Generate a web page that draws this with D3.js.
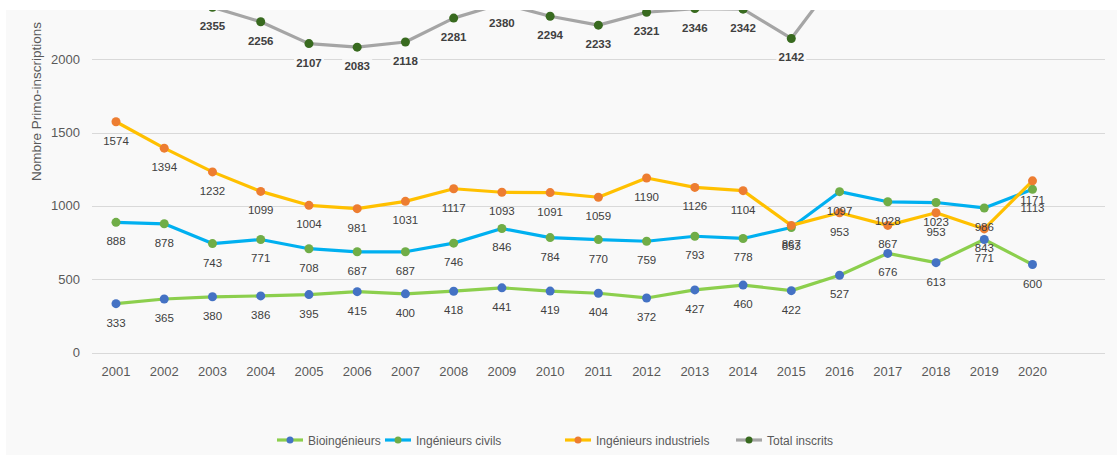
<!DOCTYPE html>
<html>
<head>
<meta charset="utf-8">
<script src="https://cdn.jsdelivr.net/npm/d3@7"></script>
<style>
  body { margin: 0; background: #fff; }
  svg { display: block; font-family: 'Liberation Sans', Arial, sans-serif; }
</style>
</head>
<body>
<script>
'use strict'

// data
var years = ['2001', '2002', '2003', '2004', '2005', '2006', '2007', '2008', '2009', '2010',
  '2011', '2012', '2013', '2014', '2015', '2016', '2017', '2018', '2019', '2020']
var bioValues = [333, 365, 380, 386, 395, 415, 400, 418, 441, 419, 404, 372, 427, 460, 422, 527, 676, 613, 771, 600]
var civilsValues = [888, 878, 743, 771, 708, 687, 687, 746, 846, 784, 770, 759, 793, 778, 853, 1097, 1028, 1023, 986, 1113]
var industrielsValues = [1574, 1394, 1232, 1099, 1004, 981, 1031, 1117, 1093, 1091, 1059, 1190, 1126, 1104, 867, 953, 867, 953, 843, 1171]
var totalValues = [2795, 2637, 2355, 2256, 2107, 2083, 2118, 2281, 2380, 2294, 2233, 2321, 2346, 2342, 2142, 2577, 2571, 2589, 2600, 2884]
var yTicks = [0, 500, 1000, 1500, 2000]
var seriesNames = ['Bioingénieurs', 'Ingénieurs civils', 'Ingénieurs industriels', 'Total inscrits']

var series = [
  {name: seriesNames[0], values: bioValues, line: '#8ccf4d', dot: '#4472c4'},
  {name: seriesNames[1], values: civilsValues, line: '#00b0f0', dot: '#70ad47'},
  {name: seriesNames[2], values: industrielsValues, line: '#ffc000', dot: '#ed7d31'},
  {name: seriesNames[3], values: totalValues, line: '#a5a5a5', dot: '#386a1f', bold: true}
]

var W = 1117, H = 455
var cropTop = 10
var bg = '#f9f9f9'

var svg = d3.select('body').append('svg')
  .attr('width', W)
  .attr('height', H)

svg.append('rect').attr('x', 6).attr('y', cropTop).attr('width', W - 6).attr('height', H - cropTop).attr('fill', bg)

var x = d3.scalePoint().domain(years).range([116, 1032.5])
var y = d3.scaleLinear().domain([0, 2000]).range([352.5, 59.3])

// the chart is cut off at the top, like the reference
svg.append('clipPath').attr('id', 'clip')
  .append('rect').attr('x', 6).attr('y', cropTop).attr('width', W).attr('height', H)

// grid
svg.append('g').selectAll('line')
  .data(yTicks)
  .enter().append('line')
  .attr('x1', 92).attr('x2', 1105)
  .attr('y1', d => Math.round(y(d)) + 0.5)
  .attr('y2', d => Math.round(y(d)) + 0.5)
  .attr('stroke', '#d9d9d9')
  .attr('stroke-width', 1)

// y axis labels
svg.append('g').selectAll('text')
  .data(yTicks)
  .enter().append('text')
  .attr('x', 80)
  .attr('y', d => y(d) + 4.5)
  .attr('text-anchor', 'end')
  .attr('font-size', '13px')
  .attr('fill', '#595959')
  .text(d => d)

// x axis labels
svg.append('g').selectAll('text')
  .data(years)
  .enter().append('text')
  .attr('x', d => x(d))
  .attr('y', 376)
  .attr('text-anchor', 'middle')
  .attr('font-size', '13px')
  .attr('fill', '#595959')
  .text(d => d)

svg.append('text')
  .attr('transform', 'translate(41, 181) rotate(-90)')
  .attr('font-size', '13.5px')
  .attr('fill', '#595959')
  .text('Nombre Primo-inscriptions')

var plot = svg.append('g').attr('clip-path', 'url(#clip)')

var line = d3.line()
  .x((d, i) => x(years[i]))
  .y(d => y(d))

series.forEach(function (s) {
  var g = plot.append('g')
  g.append('path')
    .datum(s.values)
    .attr('d', line)
    .attr('fill', 'none')
    .attr('stroke', s.line)
    .attr('stroke-width', 3.2)
    .attr('stroke-linejoin', 'round')
  g.selectAll('circle')
    .data(s.values)
    .enter().append('circle')
    .attr('cx', (d, i) => x(years[i]))
    .attr('cy', d => y(d))
    .attr('r', 4.5)
    .attr('fill', s.dot)
})

// data labels (only those that fall inside the visible area)
series.forEach(function (s) {
  var g = plot.append('g')
  var pts = s.values.map((v, i) => ({v: v, year: years[i]}))
    .filter(d => y(d.v) + 19 > cropTop + 6)
  var labels = g.selectAll('g')
    .data(pts)
    .enter().append('g')
    .attr('transform', d => `translate(${x(d.year)}, ${y(d.v) + 19})`)
  if (s.bold) {
    labels.append('rect')
      .attr('x', -15).attr('y', -7).attr('width', 30).attr('height', 14)
      .attr('fill', bg)
  }
  labels.append('text')
    .attr('y', 4)
    .attr('text-anchor', 'middle')
    .attr('font-size', '11.5px')
    .attr('font-weight', s.bold ? 'bold' : 'normal')
    .attr('fill', '#404040')
    .text(d => d.v)
})

// legend
var legendX = [290, 398, 578, 749]
var legend = svg.append('g').selectAll('g')
  .data(series)
  .enter().append('g')
  .attr('transform', (d, i) => `translate(${legendX[i]}, 440)`)
legend.append('line')
  .attr('x1', -13).attr('x2', 13)
  .attr('stroke', d => d.line)
  .attr('stroke-width', 3.2)
legend.append('circle')
  .attr('r', 3.5)
  .attr('fill', d => d.dot)
legend.append('text')
  .attr('x', 18)
  .attr('y', 4.5)
  .attr('font-size', '12px')
  .attr('fill', '#595959')
  .text(d => d.name)
</script>
</body>
</html>
